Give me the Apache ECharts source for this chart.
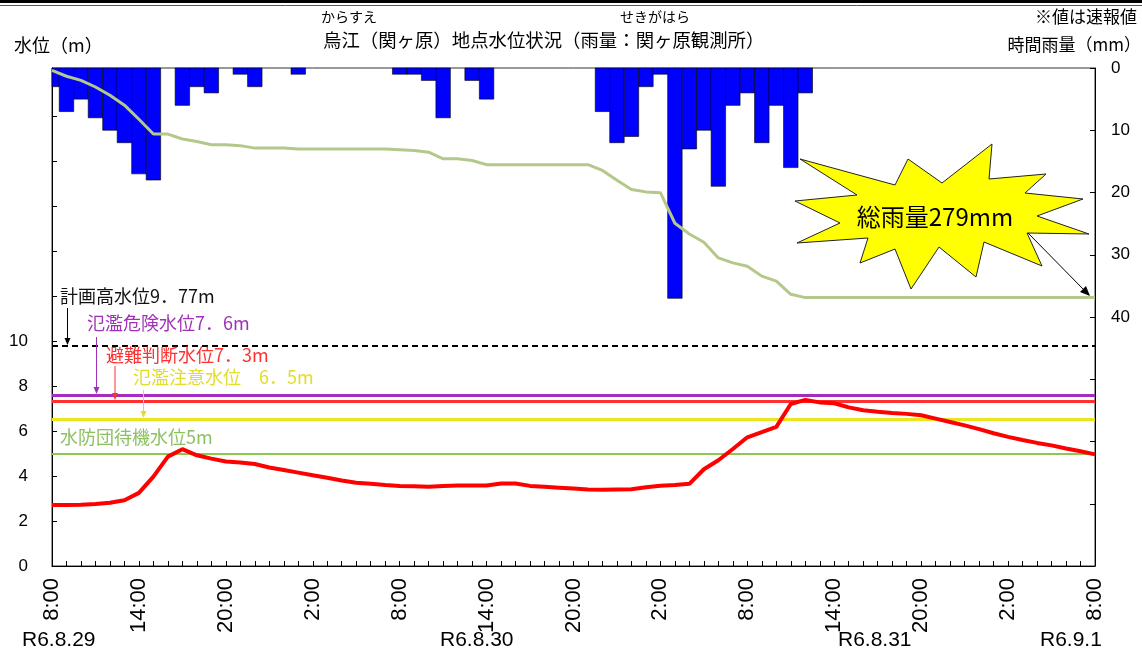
<!DOCTYPE html>
<html><head><meta charset="utf-8">
<script src="https://cdn.jsdelivr.net/npm/echarts@6/dist/echarts.min.js"></script>
<style>html,body{margin:0;padding:0;background:#fff}#c{width:1142px;height:653px}</style>
</head><body><div id="c"></div>
<script>
// Hourly time categories (8:00 R6.8.29 -> 8:00 R6.9.1)
const hours = ['8:00','9:00','10:00','11:00','12:00','13:00','14:00','15:00','16:00','17:00','18:00','19:00','20:00','21:00','22:00','23:00',
 '0:00','1:00','2:00','3:00','4:00','5:00','6:00','7:00','8:00','9:00','10:00','11:00','12:00','13:00','14:00','15:00','16:00','17:00','18:00','19:00','20:00','21:00','22:00','23:00',
 '0:00','1:00','2:00','3:00','4:00','5:00','6:00','7:00','8:00','9:00','10:00','11:00','12:00','13:00','14:00','15:00','16:00','17:00','18:00','19:00','20:00','21:00','22:00','23:00',
 '0:00','1:00','2:00','3:00','4:00','5:00','6:00','7:00','8:00'];
// Hourly rainfall (mm)
const rain = [3,7,5,8,10,12,17,18,0,6,
 3,4,0,1,3,0,0,1,0,0,
 0,0,0,0,1,1,2,8,0,2,
 5,0,0,0,0,0,0,0,7,12,
 11,3,1,37,13,10,19,6,4,12,
 6,16,4,0,0,0,0,0,0,0,
 0,0,0,0,0,0,0,0,0,0,
 0,0,0];
// Cumulative rainfall (mm)
const cumRain = [3,10,15,23,33,45,62,80,80,86,
 89,93,93,94,97,97,97,98,98,98,
 98,98,98,98,99,100,102,110,110,112,
 117,117,117,117,117,117,117,117,124,136,
 147,150,151,188,201,211,230,236,240,252,
 258,274,278,278,278,278,278,278,278,278,
 278,278,278,278,278,278,278,278,278,278,
 278,278,278];
// Water level (m)
const level = [2.71,2.71,2.72,2.76,2.81,2.92,3.25,3.97,4.86,5.19,
 4.92,4.77,4.64,4.6,4.53,4.38,4.27,4.15,4.03,3.92,
 3.8,3.7,3.65,3.6,3.56,3.54,3.52,3.55,3.58,3.58,
 3.58,3.67,3.67,3.56,3.52,3.48,3.44,3.4,3.39,3.4,
 3.41,3.5,3.57,3.6,3.65,4.3,4.7,5.2,5.72,5.95,
 6.18,7.2,7.38,7.27,7.23,7.05,6.92,6.85,6.8,6.76,
 6.7,6.55,6.4,6.25,6.08,5.9,5.74,5.6,5.47,5.36,
 5.22,5.1,4.96];
// Reference water levels
const refLevels = [9.77, 7.6, 7.3, 6.5, 5];
const refNames = ['計画高水位9．77m','氾濫危険水位7．6m','避難判断水位7．3m','氾濫注意水位　6．5m','水防団待機水位5m'];
const refColors = ['#000000','#a42cc0','#ff3030','#ece41c','#8cc850'];
const refWidths = [2, 3, 3, 3, 2];
const refTextColors = ['#111111','#a030b8','#ff3030','#e2dc2c','#8cc060'];
const dateLabels = ['R6.8.29','R6.8.30','R6.8.31','R6.9.1'];
const totalRainText = '総雨量279mm';

const JP = '"Noto Sans CJK JP", sans-serif';
const NUM = '"Liberation Sans", Arial, sans-serif';

const chart = echarts.init(document.getElementById('c'), null, {renderer:'canvas'});

const markData = refLevels.map((v,i)=>({
  yAxis: v,
  lineStyle: {color: refColors[i], width: refWidths[i], type: i===0?[6,4]:'solid'}
}));

function arrow(x, y1, y2, color){
  return [
    {type:'line', shape:{x1:x,y1:y1,x2:x,y2:y2-5}, style:{stroke:color, lineWidth:1}, z:50},
    {type:'polygon', shape:{points:[[x-3,y2-7],[x+3,y2-7],[x,y2]]}, style:{fill:color}, z:50}
  ];
}

const starPts = [[800,159],[895,185],[908,159],[942,183],[992,144],[989,179],[1046,174],[1025,193],[1083,199],
 [1037,216],[1089,234],[1027,233],[1042,266],[984,242],[976,277],[939,247],[911,289],[895,249],[860,263],
 [868,238],[797,243],[840,223],[795,201],[857,195]];

const graphics = [
  {type:'line', shape:{x1:0,y1:1.5,x2:1142,y2:1.5}, style:{stroke:'#000', lineWidth:3}},
  {type:'line', shape:{x1:0,y1:5.5,x2:1142,y2:5.5}, style:{stroke:'#555', lineWidth:1}},
  {type:'text', x:323, y:31, style:{text:'烏江（関ヶ原）地点水位状況（雨量：関ヶ原観測所）', font:'18.4px '+JP, fill:'#000'}},
  {type:'text', x:321, y:10, style:{text:'からすえ', font:'14px '+JP, fill:'#000'}},
  {type:'text', x:620, y:10, style:{text:'せきがはら', font:'14px '+JP, fill:'#000'}},
  {type:'text', x:1137, y:8, style:{text:'※値は速報値', font:'17px '+JP, fill:'#000', align:'right'}},
  {type:'text', x:14, y:36, style:{text:'水位（m）', font:'18px '+JP, fill:'#000'}},
  {type:'text', x:1141, y:36, style:{text:'時間雨量（mm）', font:'17px '+JP, fill:'#000', align:'right'}},
  // level labels
  {type:'text', x:60, y:287, style:{text:refNames[0], font:'18px '+JP, fill:refTextColors[0]}, z:50},
  {type:'text', x:87, y:314, style:{text:refNames[1], font:'18px '+JP, fill:refTextColors[1]}, z:50},
  {type:'text', x:106, y:346, style:{text:refNames[2], font:'18px '+JP, fill:refTextColors[2]}, z:50},
  {type:'text', x:133, y:368, style:{text:refNames[3], font:'18px '+JP, fill:refTextColors[3]}, z:50},
  {type:'text', x:60, y:428, style:{text:refNames[4], font:'18px '+JP, fill:refTextColors[4]}, z:50},
  ...arrow(67.5, 308, 345, '#000'),
  ...arrow(96.5, 337, 394, '#a030b8'),
  ...arrow(115, 366, 400, '#ff3030'),
  ...arrow(143.5, 390, 418, '#e2dc2c'),
  // star
  {type:'polygon', shape:{points:starPts}, style:{fill:'#ffff00', stroke:'#222', lineWidth:1}, z:60},
  {type:'text', x:935, y:217, style:{text:totalRainText, font:'24px '+JP, fill:'#000', align:'center', verticalAlign:'middle'}, z:61},
  {type:'line', shape:{x1:1028,y1:233,x2:1085,y2:291}, style:{stroke:'#000', lineWidth:1}, z:61},
  {type:'polygon', shape:{points:[[1090,296],[1080,292],[1086,286]]}, style:{fill:'#000'}, z:61},
  // dates
  {type:'text', x:22, y:630, style:{text:dateLabels[0], font:'21px '+NUM, fill:'#000'}},
  {type:'text', x:440, y:630, style:{text:dateLabels[1], font:'21px '+NUM, fill:'#000'}},
  {type:'text', x:838, y:630, style:{text:dateLabels[2], font:'21px '+NUM, fill:'#000'}},
  {type:'text', x:1040, y:630, style:{text:dateLabels[3], font:'21px '+NUM, fill:'#000'}}
];

function renderRainBar(params, api){
  const idx = api.value(0), v = api.value(1);
  if (!v) return null;
  const p0 = api.coord([idx, 0]);
  const p1 = api.coord([idx, v]);
  const w = api.size([1, 0])[0];
  const cs = params.coordSys;
  const rect = echarts.graphic.clipRectByRect(
    {x: p0[0] - w/2, y: Math.min(p0[1], p1[1]), width: w, height: Math.abs(p1[1] - p0[1])},
    {x: cs.x, y: cs.y, width: cs.width, height: cs.height});
  return rect && {type:'rect', shape: rect, style: {fill:'#0000ff', stroke:'#000', lineWidth:0.6}};
}

chart.setOption({
  animation:false,
  backgroundColor:'#fff',
  grid:{left:52, right:47, top:68, bottom:87, show:true, borderColor:'#333', borderWidth:1, backgroundColor:'transparent'},
  xAxis:[{
    type:'category', data:hours, boundaryGap:false,
    axisLine:{lineStyle:{color:'#000', width:1}},
    axisTick:{show:true, inside:true, length:5, interval:0, lineStyle:{color:'#000'}},
    axisLabel:{interval:5, rotate:90, margin:12, color:'#000', fontSize:22, fontFamily:NUM},
    splitLine:{show:false}
  }],
  yAxis:[
    {type:'value', min:0, max:22.13, interval:2, position:'left',
     axisLine:{show:true, lineStyle:{color:'#000'}},
     axisTick:{show:true, inside:true, length:5, lineStyle:{color:'#000'}},
     axisLabel:{margin:24, color:'#000', fontSize:17, fontFamily:NUM, formatter:v=> v<=10 ? String(v) : '', showMaxLabel:false},
     splitLine:{show:false}},
    {type:'value', min:0, max:80, interval:10, inverse:true, position:'right',
     axisLine:{show:true, lineStyle:{color:'#000'}},
     axisTick:{show:true, inside:true, length:5, lineStyle:{color:'#000'}},
     axisLabel:{margin:16, color:'#000', fontSize:17, fontFamily:NUM, formatter:v=> v<=40 ? String(v) : ''},
     splitLine:{show:false}},
    {type:'value', min:0, max:603, inverse:true, show:false, splitLine:{show:false}}
  ],
  series:[
    {type:'custom', name:'時間雨量', xAxisIndex:0, yAxisIndex:1,
     data: rain.map((v,i)=>[i, v]), encode:{x:0, y:1},
     renderItem: renderRainBar, z:2},
    {type:'line', name:'累加雨量', xAxisIndex:0, yAxisIndex:2, data:cumRain, symbol:'none',
     lineStyle:{color:'#b4c88c', width:3}, z:3},
    {type:'line', name:'水位', xAxisIndex:0, yAxisIndex:0, data:level, symbol:'none',
     lineStyle:{color:'#ff0000', width:4}, z:5,
     markLine:{silent:true, symbol:'none', label:{show:false}, data:markData, z:4}}
  ],
  graphic: graphics
});
</script></body></html>
